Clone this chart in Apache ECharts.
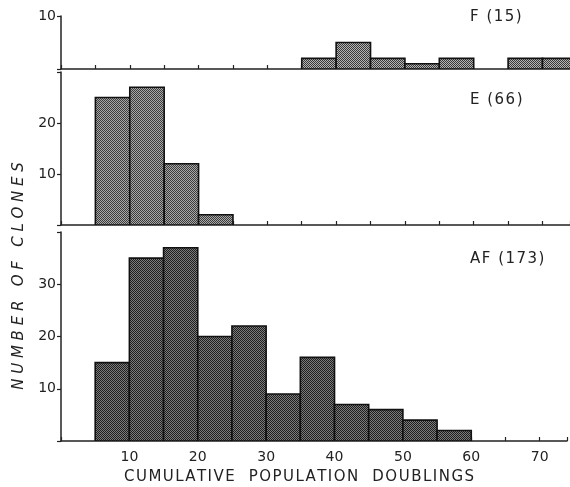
<!DOCTYPE html>
<html>
<head>
<meta charset="utf-8">
<script src="https://cdn.jsdelivr.net/npm/echarts@6/dist/echarts.min.js"></script>
<style>
  html, body { margin: 0; padding: 0; background: #fff; }
  #chart { width: 570px; height: 487px; }
</style>
</head>
<body>
<div id="chart"></div>
<script>
// bin starts (width 5) and clone counts for each panel
var binWidth = 5;
var binsF = [35, 40, 45, 50, 55, 65, 70];
var countsF = [2, 5, 2, 1, 2, 2, 2];
var binsE = [5, 10, 15, 20];
var countsE = [25, 27, 12, 2];
var binsAF = [5, 10, 15, 20, 25, 30, 35, 40, 45, 50, 55];
var countsAF = [15, 35, 37, 20, 22, 9, 16, 7, 6, 4, 2];
var xLabels = [10, 20, 30, 40, 50, 60, 70];
var panelNames = ['F (15)', 'E (66)', 'AF (173)'];

// stipple pattern for the bars
function stipple(dark, light) {
    var c = document.createElement('canvas');
    c.width = 2; c.height = 2;
    var g = c.getContext('2d');
    g.fillStyle = light; g.fillRect(0, 0, 2, 2);
    g.fillStyle = dark; g.fillRect(0, 0, 1, 1); g.fillRect(1, 1, 1, 1);
    return { image: c, repeat: 'repeat' };
}
var fillF = stipple('#3a3a3a', '#b4b4b4');
var fillE = stipple('#3c3c3c', '#a8a8a8');
var fillAF = stipple('#1e1e1e', '#7c7c7c');

// lettering look: hair space between characters
function spaced(s) {
    return s.split('').join('\u200A');
}

function toData(bins, counts) {
    return bins.map(function (b, i) { return [b, b + binWidth, counts[i]]; });
}

function makeRender(fill) {
    return function (params, api) {
        var p0 = api.coord([api.value(0), api.value(2)]);
        var p1 = api.coord([api.value(1), 0]);
        return {
            type: 'rect',
            shape: { x: p0[0], y: p0[1], width: p1[0] - p0[0], height: p1[1] - p0[1] },
            style: { fill: fill, stroke: '#111', lineWidth: 1.6 }
        };
    };
}

var font = 'DejaVu Sans';
var grids = [
    { left: 61, right: 0, top: 16, height: 53 },
    { left: 61, right: 0, top: 72, height: 153 },
    { left: 61, right: 0, top: 232, height: 209 }
];

function xAxis(idx, showLabels) {
    return {
        type: 'value', gridIndex: idx, min: 0, max: 74, interval: 5,
        axisLine: { lineStyle: { color: '#222', width: 1.5 } },
        axisTick: { inside: true, length: 4, lineStyle: { color: '#222', width: 1.2 } },
        splitLine: { show: false },
        axisLabel: {
            show: showLabels, color: '#222', fontFamily: font, fontSize: 14, margin: 9,
            formatter: function (v) { return xLabels.indexOf(v) >= 0 ? String(v) : ''; }
        }
    };
}

function yAxis(idx, max, labels) {
    return {
        type: 'value', gridIndex: idx, min: 0, max: max, interval: 10,
        axisLine: { show: true, lineStyle: { color: '#222', width: 1.5 } },
        axisTick: { show: true, length: 4, lineStyle: { color: '#222', width: 1.2 } },
        splitLine: { show: false },
        axisLabel: {
            color: '#222', fontFamily: font, fontSize: 14, margin: 5,
            formatter: function (v) { return labels.indexOf(v) >= 0 ? String(v) : ''; }
        }
    };
}

var labelFont = '15px "DejaVu Sans"';
var myChart = echarts.init(document.getElementById('chart'));
myChart.setOption({
    animation: false,
    backgroundColor: '#fff',
    grid: grids,
    xAxis: [xAxis(0, false), xAxis(1, false), xAxis(2, true)],
    yAxis: [yAxis(0, 10, [10]), yAxis(1, 30, [10, 20]), yAxis(2, 40, [10, 20, 30])],
    series: [
        { type: 'custom', xAxisIndex: 0, yAxisIndex: 0, clip: true,
          renderItem: makeRender(fillF), data: toData(binsF, countsF) },
        { type: 'custom', xAxisIndex: 1, yAxisIndex: 1, clip: true,
          renderItem: makeRender(fillE), data: toData(binsE, countsE) },
        { type: 'custom', xAxisIndex: 2, yAxisIndex: 2, clip: true,
          renderItem: makeRender(fillAF), data: toData(binsAF, countsAF) }
    ],
    graphic: [
        { type: 'text', x: 470, y: 17,
          style: { text: spaced(panelNames[0]), font: labelFont, fill: '#222', verticalAlign: 'middle' } },
        { type: 'text', x: 470, y: 100,
          style: { text: spaced(panelNames[1]), font: labelFont, fill: '#222', verticalAlign: 'middle' } },
        { type: 'text', x: 470, y: 259,
          style: { text: spaced(panelNames[2]), font: labelFont, fill: '#222', verticalAlign: 'middle' } },
        { type: 'text', x: 19, y: 276, rotation: Math.PI / 2,
          style: { text: 'N U M B E R   O F   C L O N E S', font: 'italic 15px "DejaVu Sans"',
                   fill: '#222', align: 'center', verticalAlign: 'middle' } },
        { type: 'text', x: 299, y: 477,
          style: { text: spaced('CUMULATIVE  POPULATION  DOUBLINGS'), font: labelFont,
                   fill: '#222', align: 'center', verticalAlign: 'middle' } }
    ]
});
</script>
</body>
</html>
